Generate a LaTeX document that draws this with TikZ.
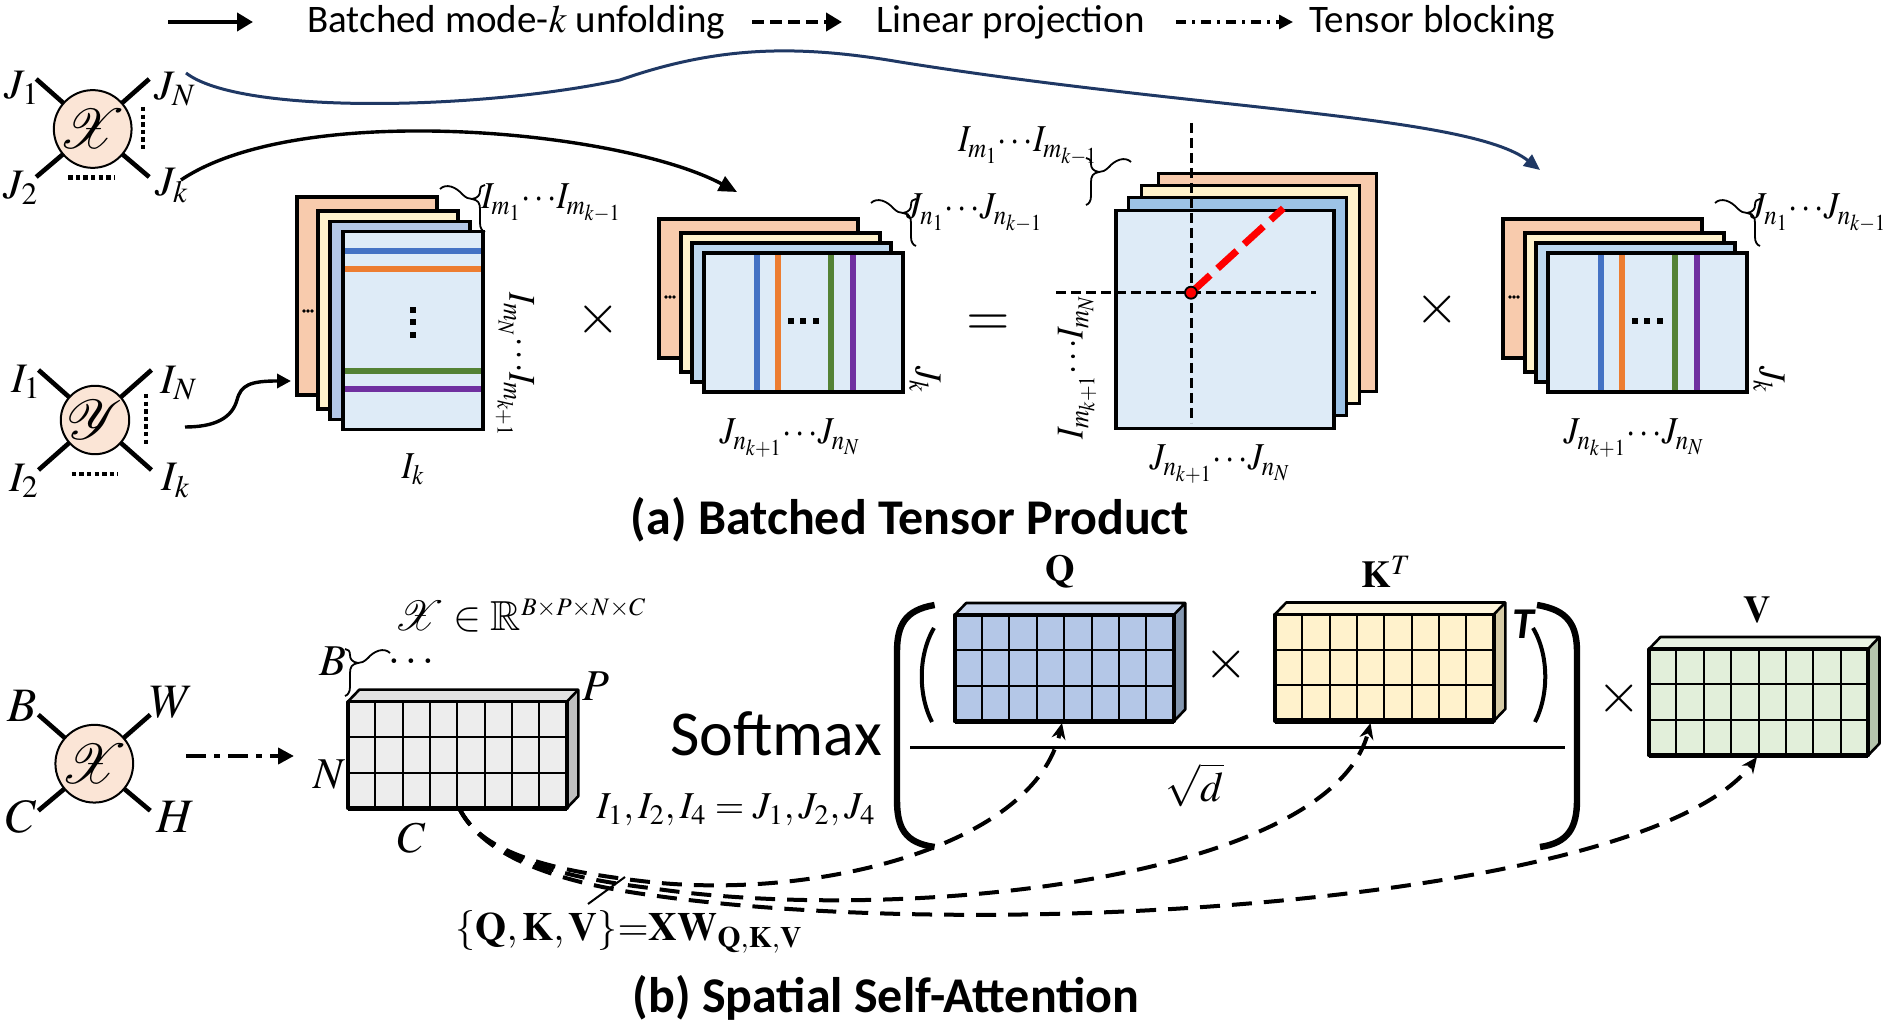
\documentclass[tikz,border=0pt]{standalone}
\usepackage{graphicx}
\usepackage{mathptmx}
\usepackage{amssymb}
\usepackage[no-math]{fontspec}
\setmainfont{Carlito}
\usetikzlibrary{arrows.meta,calc}
\newcommand{\myfs}[1]{\fontsize{#1}{#1}\selectfont}
\newcommand{\ml}[1]{\scalebox{0.88}[1]{$#1$}}
\definecolor{corange}{HTML}{F8CBAD}
\definecolor{cyellow}{HTML}{FFF2CC}
\definecolor{cblueA}{HTML}{B4C7E7}
\definecolor{cblueB}{HTML}{BDD7EE}
\definecolor{cblueM}{HTML}{9DC3E6}
\definecolor{cfront}{HTML}{DEEBF7}
\definecolor{lblue}{HTML}{4472C4}
\definecolor{lorange}{HTML}{ED7D31}
\definecolor{lgreen}{HTML}{548235}
\definecolor{lpurple}{HTML}{7030A0}
\definecolor{cpeach}{HTML}{FBE5D6}
\definecolor{navy}{HTML}{1F3864}
\definecolor{qfront}{HTML}{B4C7E7}\definecolor{qtop}{HTML}{C9D6EE}\definecolor{qside}{HTML}{8497B0}
\definecolor{kfront}{HTML}{FFF2CC}\definecolor{ktop}{HTML}{FFF6DC}\definecolor{kside}{HTML}{D6CBA6}
\definecolor{vfront}{HTML}{E2EFDA}\definecolor{vtop}{HTML}{EAF3E4}\definecolor{vside}{HTML}{B5C4AC}
\definecolor{gfront}{HTML}{EDEDED}\definecolor{gtop}{HTML}{E3E3E3}\definecolor{gside}{HTML}{BFBFBF}
\tikzset{
  sheet/.style={draw=black,line width=1.7pt},
  leg/.style={line width=2.3pt},
  dotline/.style={line width=2.2pt,dash pattern=on 2.2pt off 1.6pt},
  tnode/.style={circle,draw,line width=1pt,fill=cpeach,minimum size=33pt,inner sep=0pt,font=\myfs{28}},
  mlab/.style={inner sep=0pt,font=\myfs{19}},
  xlab/.style={inner sep=0pt,font=\myfs{21}},
  blab/.style={inner sep=0pt,font=\myfs{22}},
  cline/.style={line width=3pt},
  brc/.style={line width=0.9pt},
  crv/.style={line width=1.7pt},
  proj/.style={line width=2pt,dash pattern=on 10pt off 6pt,-{Stealth[length=8pt,width=7pt]}},
  title/.style={font=\myfs{25}\bfseries,inner sep=0pt},
  timesop/.style={inner sep=0pt,font=\myfs{28}},
  legtext/.style={anchor=west,inner sep=0pt,font=\myfs{19.5}},
  xdash/.style={line width=1.5pt,dash pattern=on 5pt off 2.5pt},
  wbrace/.pic={
    \draw[brc] (-32,-10) .. controls (-26,-16) and (-16,-12) .. (-10,-5)
       .. controls (-6,-1) and (-3,0) .. (0,0)
       .. controls (6,-1) and (8,-4) .. (8,-8)
       .. controls (8,-12) and (10,-14) .. (13,-14);
    \draw[brc] (0,0) .. controls (6,1) and (8,4) .. (8,10) -- (8,24)
       .. controls (8,29) and (10,32) .. (13,33);
  }
}
\newcommand{\gridblock}[5]{%
\begin{scope}[shift={(#1,#2)}]
\fill[#4] (0,0) -- (11.5,-12) -- (230.5,-12) -- (219,0) -- cycle;
\fill[#5] (219,0) -- (230.5,-12) -- (230.5,94.5) -- (219,106.5) -- cycle;
\fill[#3] (0,0) rectangle (219,106.5);
\foreach \xx in {1,...,7}{\draw[line width=1pt] (\xx*27.375,0) -- (\xx*27.375,106.5);}
\foreach \yy in {1,2}{\draw[line width=1pt] (0,\yy*35.5) -- (219,\yy*35.5);}
\draw[line width=1.3pt,line join=round] (0,0) -- (11.5,-12) -- (230.5,-12) -- (230.5,94.5) -- (219,106.5) (219,0) -- (230.5,-12);
\draw[line width=1.8pt,line join=round] (0,0) rectangle (219,106.5);
\draw[line width=2.6pt] (0,106.5) -- (219,106.5);
\end{scope}}
\newcommand{\jstack}[2]{%
\begin{scope}[shift={(#1,0)}]
\draw[sheet,fill=corange] (659,219) rectangle ++(199,139);
\draw[sheet,fill=cyellow] (681,233) rectangle ++(199,139);
\draw[sheet,fill=cblueB] (692,243) rectangle ++(199,139);
\fill[cfront] (704,253) rectangle ++(199,139);
\draw[cline,lblue] (757,253) -- ++(0,139);
\draw[cline,lorange] (777.5,253) -- ++(0,139);
\draw[cline,lgreen] (831,253) -- ++(0,139);
\draw[cline,lpurple] (852.5,253) -- ++(0,139);
\draw[sheet] (704,253) rectangle ++(199,139);
\foreach \xx in {787.7,800.3,813}{\fill (\xx,317.7) rectangle ++(6,6);}
\foreach \xx in {666,670,674}{\fill (\xx,297) circle (0.9pt);}
\pic at (903,213) {wbrace};
\node[mlab,anchor=base west] (#2a) at (906,219) {\ml{J_{n_1}{\cdots}J_{n_{k-1}}}};
\node[mlab,rotate=-90] (#2b) at (925,380) {\ml{J_k}};
\node[mlab] (#2c) at (790,438) {\ml{J_{n_{k+1}}{\cdots}J_{n_N}}};
\end{scope}}
\begin{document}
\begin{tikzpicture}[x=0.5pt,y=-0.5pt]
\useasboundingbox (0,0) rectangle (1886,1031);
% ---------------- legend
\coordinate (la1) at (168,22); \coordinate (la2) at (253,22);
\coordinate (lb1) at (752,22); \coordinate (lb2) at (842,22);
\coordinate (lc1) at (1176,22); \coordinate (lc2) at (1293,22);
\draw[line width=2.2pt,-{Triangle[length=8pt,width=9pt]}] (la1) -- (la2);
\draw[line width=2.2pt,dash pattern=on 6pt off 3pt,-{Triangle[length=8pt,width=9pt]}] (lb1) -- (lb2);
\draw[line width=1.6pt,dash pattern=on 5pt off 3pt on 1.5pt off 3pt,-{Triangle[length=7pt,width=7pt]}] (lc1) -- (lc2);
\node[legtext] (lt1) at (307,22) {Batched mode-$k$ unfolding};
\node[legtext] (lt2) at (876,22) {Linear projection};
\node[legtext] (lt3) at (1309,22) {Tensor blocking};
% ---------------- tensor X (a)
\coordinate (Xc) at (92.7,129);
\draw[leg] (Xc) -- ++(-56.5,-50); \draw[leg] (Xc) -- ++(56.5,-50);
\draw[leg] (Xc) -- ++(-56.5,48); \draw[leg] (Xc) -- ++(56.5,48);
\draw[dotline] ($(Xc)+(50.5,-22)$) -- ($(Xc)+(50.5,23)$);
\draw[dotline] ($(Xc)+(-24.5,48.5)$) -- ($(Xc)+(22.5,48.5)$);
\node[tnode] (X) at (Xc) {$\mathcal{X}$};
\node[xlab] (xj1) at (22,88) {$J_1$};
\node[xlab] (xjN) at (175,89) {$J_N$};
\node[xlab] (xj2) at (21,188) {$J_2$};
\node[xlab] (xjk) at (172,186) {$J_k$};
% ---------------- tensor Y (a)
\coordinate (Yc) at (95,420);
\draw[leg] (Yc) -- ++(-56.5,-50); \draw[leg] (Yc) -- ++(56.5,-50);
\draw[leg] (Yc) -- ++(-56.5,50); \draw[leg] (Yc) -- ++(56.5,50);
\draw[dotline] ($(Yc)+(50.7,-26)$) -- ($(Yc)+(50.7,27)$);
\draw[dotline] ($(Yc)+(-23.3,54)$) -- ($(Yc)+(23.3,54)$);
\node[tnode] (Y) at (Yc) {$\mathcal{Y}$};
\node[xlab] (yi1) at (26,382) {$I_1$};
\node[xlab] (yiN) at (179,383) {$I_N$};
\node[xlab] (yi2) at (24,481) {$I_2$};
\node[xlab] (yik) at (176,481) {$I_k$};
% ---------------- stack 1
\draw[sheet,fill=corange] (297,197) rectangle ++(140,198);
\draw[sheet,fill=cyellow] (318,211) rectangle ++(140,198);
\draw[sheet,fill=cblueA] (330,221.5) rectangle ++(140,198);
\fill[cfront] (343,231.5) rectangle ++(140,198);
\draw[cline,lblue] (343,251) -- ++(140,0);
\draw[cline,lorange] (343,269.3) -- ++(140,0);
\draw[cline,lgreen] (343,371) -- ++(140,0);
\draw[cline,lpurple] (343,389.3) -- ++(140,0);
\draw[sheet] (343,231.5) rectangle ++(140,198);
\foreach \yy in {307,319.3,332}{\fill (409.7,\yy) rectangle ++(6,6);}
\foreach \xx in {304,308,312}{\fill (\xx,311) circle (0.9pt);}
\pic at (472,199) {wbrace};
\node[mlab,anchor=base west] (s1a) at (481,209) {\ml{I_{m_1}{\cdots}I_{m_{k-1}}}};
\node[mlab,rotate=-90] (s1b) at (515,365) {\ml{I_{m_N}{\cdots}I_{m_{k+1}}}};
\node[mlab] (s1c) at (413,469) {\ml{I_k}};
\node[timesop] (op1) at (598,320) {$\times$};
% ---------------- stack 2 and right stack
\jstack{0}{s2}
\node[timesop] (op2) at (988,325) {$=$};
\jstack{844}{s4}
\node[timesop] (op3) at (1437,310) {$\times$};
% ---------------- middle block
\draw[sheet,fill=corange] (1158.3,173.3) rectangle ++(218,218);
\draw[sheet,fill=cyellow] (1141.7,185.3) rectangle ++(218,218);
\draw[sheet,fill=cblueM] (1128.3,197.3) rectangle ++(218,218);
\draw[sheet,fill=cfront] (1116,210.7) rectangle ++(218,218);
\coordinate (mc) at (1191,292.7);
\coordinate (mv1) at (1191,123); \coordinate (mv2) at (1191,423);
\coordinate (mh1) at (1056,292.7); \coordinate (mh2) at (1316,292.7);
\coordinate (mr) at (1283.3,208.3);
\draw[xdash] (mv1) -- (mv2);
\draw[xdash] (mh1) -- (mh2);
\draw[red,line width=3.5pt,dash pattern=on 13pt off 5pt] (mc) -- (mr);
\node[circle,fill=red,draw=black,line width=0.9pt,minimum size=6pt,inner sep=0pt] (mdot) at (mc) {};
\pic[xscale=-1] at (1099,172) {wbrace};
\node[mlab,anchor=base] (m1a) at (1028,152) {\ml{I_{m_1}{\cdots}I_{m_{k-1}}}};
\node[mlab,rotate=90] (m1b) at (1077,367) {\ml{I_{m_{k+1}}{\cdots}I_{m_N}}};
\node[mlab] (m1c) at (1220,464) {\ml{J_{n_{k+1}}{\cdots}J_{n_N}}};
% ---------------- (a) connectors
\coordinate (yout) at (185,427); \coordinate (s1in) at (291,381);
\draw[crv,-{Triangle[length=7pt,width=7pt]}] (yout) .. controls (215,427) and (232,418) .. (237,400) .. controls (241,385) and (250,381) .. (s1in);
\coordinate (jkout) at (181,180); \coordinate (s2in) at (737,192);
\draw[crv,-{Triangle[length=9pt,width=8pt]}] (jkout) .. controls (300,100) and (620,130) .. (s2in);
\coordinate (jnout) at (186,73); \coordinate (s4in) at (1540,170);
\draw[crv,navy,line width=1.5pt,-{Triangle[length=8pt,width=7pt]}] (jnout) .. controls (240,115) and (480,110) .. (620,80) .. controls (720,45) and (800,45) .. (900,62) .. controls (1200,110) and (1470,115) .. (s4in);
\node[title] (ta) at (910,520) {(a) Batched Tensor Product};
% ---------------- (b) tensor
\coordinate (Xbc) at (94.3,763.7);
\draw[leg] (Xbc) -- ++(-56,-49); \draw[leg] (Xbc) -- ++(56,-49);
\draw[leg] (Xbc) -- ++(-56,47); \draw[leg] (Xbc) -- ++(56,47);
\node[tnode] (Xb) at (Xbc) {$\mathcal{X}$};
\node[blab,font=\myfs{24}] (bB) at (22,706) {$B$};
\node[blab,font=\myfs{24}] (bW) at (172,702) {$W$};
\node[blab,font=\myfs{24}] (bC) at (21,817) {$C$};
\node[blab,font=\myfs{24}] (bH) at (176,817) {$H$};
\coordinate (bd1) at (186,756); \coordinate (bd2) at (294,756);
\draw[line width=2pt,dash pattern=on 10pt off 4pt on 3pt off 4pt,-{Triangle[length=8pt,width=8pt]}] (bd1) -- (bd2);
% ---------------- gray block
\gridblock{347.8}{701.7}{gfront}{gtop}{gside}
\node[blab] (gN) at (329,775) {$N$};
\node[blab] (gP) at (596,686) {$P$};
\node[blab] (gC) at (412,838) {$C$};
\node[blab] (gB) at (333,661) {$B$};
\node[blab] (gdots) at (411,661) {$\ldots$};
\pic[xscale=-1] at (358,663) {wbrace};
\node[inner sep=0pt,font=\myfs{21}] (xin) at (520,615) {$\mathcal{X}\in\mathbb{R}^{\scriptscriptstyle B\times P\times N\times C}$};
\node[inner sep=0pt,font=\myfs{19}] (ieq) at (736,810) {$I_1,I_2,I_4=J_1,J_2,J_4$};
% ---------------- Softmax part
\node[inner sep=0pt,font=\myfs{32}] (smax) at (776,734) {Softmax};
\draw[line width=3.2pt] (934.6,605) .. controls (905,610) and (897,625) .. (897,652) -- (897,800) .. controls (897,828) and (905,843) .. (934.6,847);
\draw[line width=3.2pt] (1537,605) .. controls (1568,610) and (1577,625) .. (1577,652) -- (1577,800) .. controls (1577,828) and (1568,843) .. (1540,847);
\draw[line width=2pt] (934,628) .. controls (918,655) and (918,695) .. (932,722);
\draw[line width=2pt] (1533,628) .. controls (1549,655) and (1549,695) .. (1535,722);
\draw[line width=1.5pt] (910,748) -- (1565,748);
\gridblock{954.7}{615}{qfront}{qtop}{qside}
\gridblock{1274.8}{614.5}{kfront}{ktop}{kside}
\gridblock{1649}{649}{vfront}{vtop}{vside}
\node[inner sep=0pt,font=\myfs{19}] (qlab) at (1060,572) {$\mathbf{Q}$};
\node[inner sep=0pt,font=\myfs{19},anchor=base west] (klab) at (1361,588) {$\mathbf{K}^{T}$};
\node[inner sep=0pt,font=\myfs{19}] (vlab) at (1757,610) {$\mathbf{V}$};
\node[inner sep=0pt,font=\myfs{22}\bfseries\itshape] (tlab) at (1523,624) {T};
\node[timesop] (op4) at (1226,665) {$\times$};
\node[timesop] (op5) at (1619,699) {$\times$};
\node[inner sep=0pt,font=\myfs{21}] (sqd) at (1195,785) {$\sqrt{d}$};
% ---------------- projections
\coordinate (gstart) at (459.2,808.2);
\coordinate (qin) at (1062,723);
\coordinate (kin) at (1370.5,723);
\coordinate (vin) at (1757,757);
\draw[proj] (gstart) .. controls (480,850) and (540,870) .. (650,882) .. controls (820,900) and (1035,845) .. (qin);
\draw[proj] (gstart) .. controls (480,850) and (540,875) .. (650,888) .. controls (900,925) and (1330,880) .. (kin);
\draw[proj] (gstart) .. controls (480,850) and (540,880) .. (650,895) .. controls (1000,945) and (1650,900) .. (vin);
\node[inner sep=0pt,font=\myfs{20}] (qkv) at (629,932) {$\{\mathbf{Q},\mathbf{K},\mathbf{V}\}{=}\mathbf{XW}_{\mathbf{Q,K,V}}$};
\coordinate (ptA) at (588,904); \coordinate (ptB) at (625,877);
\draw[line width=1pt] (ptA) -- (ptB);
\node[title] (tb) at (886,998) {(b) Spatial Self-Attention};
\end{tikzpicture}
\end{document}
